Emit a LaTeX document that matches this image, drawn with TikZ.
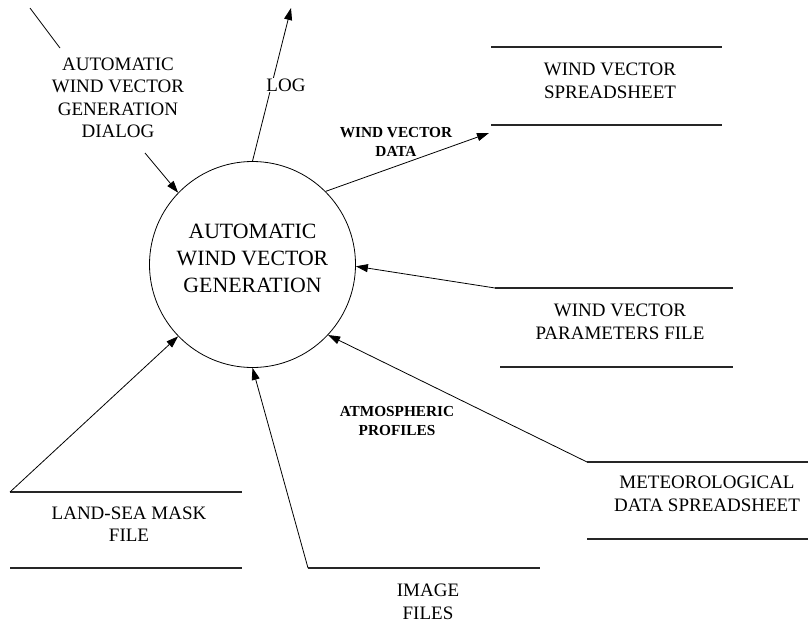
\documentclass[tikz,border=0pt]{standalone}
\usepackage{fontspec}
\setmainfont{Liberation Serif}
\usetikzlibrary{arrows.meta}
\begin{document}
\begin{tikzpicture}[x=1pt,y=-1pt,
  flow/.style={line width=0.8pt,-{Triangle[length=12pt,width=8pt]}},
  plain/.style={line width=0.8pt},
  storeline/.style={line width=1.4pt, draw=black!85},
  big/.style={font=\fontsize{21.8}{27}\selectfont, align=center, inner sep=0pt},
  lab/.style={font=\fontsize{19}{22.5}\selectfont, align=center, inner sep=1pt},
  small/.style={font=\bfseries\fontsize{15.3}{19.5}\selectfont, align=center, inner sep=1pt}]
\useasboundingbox[fill=white] (0,0) rectangle (808,643);

% process
\node[circle, draw, line width=0.8pt, minimum size=206pt, inner sep=0pt] (c) at (252.5,264.5) {};
\node[big] (ct) at (252.5,258) {AUTOMATIC\\WIND VECTOR\\GENERATION};

% terminator / dialog
\node[lab] (dlg) at (118,98) {AUTOMATIC\\WIND VECTOR\\GENERATION\\DIALOG};
\coordinate (dlgtop) at (30,8);
\coordinate (dlgtopend) at (60,48);
\coordinate (dlgin) at (145,153);
\draw[plain] (dlgtop) -- (dlgtopend);
\draw[flow] (dlgin) -- (c.136);

% log
\coordinate (logend) at (291,8);
\draw[flow] (c.90) -- (logend);
\node[lab, fill=white] (log) at (286,85) {LOG};

% wind vector spreadsheet
\coordinate (s1a) at (491,47); \coordinate (s1b) at (722,47);
\coordinate (s1c) at (491,125); \coordinate (s1d) at (722,125);
\draw[storeline] (s1a) -- (s1b);
\draw[storeline] (s1c) -- (s1d);
\node[lab] (s1) at (610,81) {WIND VECTOR\\SPREADSHEET};
\coordinate (wvdend) at (489,133);
\draw[flow] (c.45) -- (wvdend);
\node[small] (wvd) at (396,142) {WIND VECTOR\\DATA};

% wind vector parameters file
\coordinate (s2a) at (495,288); \coordinate (s2b) at (733,288);
\coordinate (s2c) at (500,367); \coordinate (s2d) at (733,367);
\draw[storeline] (s2a) -- (s2b);
\draw[storeline] (s2c) -- (s2d);
\node[lab] (s2) at (620,322) {WIND VECTOR\\PARAMETERS FILE};
\draw[flow] (s2a) -- (c.-1);

% meteorological data spreadsheet
\coordinate (s3a) at (587,462); \coordinate (s3b) at (808,462);
\coordinate (s3c) at (587,539); \coordinate (s3d) at (808,539);
\draw[storeline] (s3a) -- (s3b);
\draw[storeline] (s3c) -- (s3d);
\node[lab] (s3) at (707,494) {METEOROLOGICAL\\DATA SPREADSHEET};
\draw[flow] (s3a) -- (c.-43);
\node[small] (atm) at (397,421) {ATMOSPHERIC\\PROFILES};

% land-sea mask file
\coordinate (s4a) at (10,492); \coordinate (s4b) at (242,492);
\coordinate (s4c) at (10,568); \coordinate (s4d) at (242,568);
\draw[storeline] (s4a) -- (s4b);
\draw[storeline] (s4c) -- (s4d);
\node[lab] (s4) at (129,524) {LAND-SEA MASK\\FILE};
\draw[flow] (s4a) -- (c.-136);

% image files
\coordinate (s5a) at (308,568); \coordinate (s5b) at (540,568);
\draw[storeline] (s5a) -- (s5b);
\node[lab] (s5) at (428,602) {IMAGE\\FILES};
\draw[flow] (s5a) -- (c.-90);
\end{tikzpicture}
\end{document}
